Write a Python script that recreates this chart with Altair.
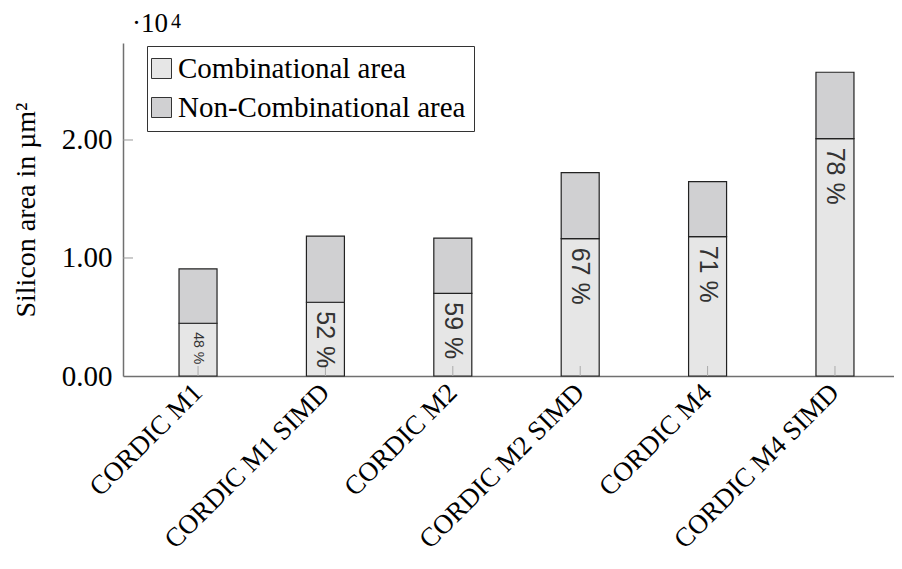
import altair as alt
import pandas as pd

categories = ["CORDIC M1", "CORDIC M1 SIMD", "CORDIC M2", "CORDIC M2 SIMD", "CORDIC M4", "CORDIC M4 SIMD"]
combinational = [4470, 6250, 7010, 11640, 11810, 20110]
non_combinational = [4600, 5610, 4680, 5590, 4660, 5630]
percent_labels = ["48 %", "52 %", "59 %", "67 %", "71 %", "78 %"]
percent_sizes = [14, 25, 25, 25, 25, 25]
series_names = ["Combinational area", "Non-Combinational area"]
y_ticks = [10000, 20000]
exponent_base = ["·10"]
exponent_power = ["4"]

rows = []
for i, c in enumerate(categories):
    rows.append({"cat": c, "series": series_names[0], "value": combinational[i], "ord": 0})
    rows.append({"cat": c, "series": series_names[1], "value": non_combinational[i], "ord": 1})
bars_df = pd.DataFrame(rows)

labels_df = pd.DataFrame({
    "cat": categories,
    "y": combinational,
    "label": percent_labels,
    "size": percent_sizes,
})
ticks_df = pd.DataFrame({"v": y_ticks})
xt_df = pd.DataFrame({"cat": categories})
exp_df = pd.DataFrame({"t": exponent_base})
pow_df = pd.DataFrame({"t": exponent_power})

SERIF = "Liberation Serif"
FS = 29
H = 333

x_scale = alt.Scale(domain=categories, range=[0, 787], paddingInner=0, paddingOuter=0.089)
y_scale = alt.Scale(domain=[0, 28220], nice=False, zero=True)

x_axis = alt.Axis(
    title=None, labelAngle=-45, labelAlign="right", labelBaseline="middle",
    labelPadding=12, labelFont=SERIF, labelFontSize=27, labelColor="black",
    ticks=False, domainColor="#707070", domainWidth=1.5, labelLimit=400, grid=False)
y_axis = alt.Axis(
    values=[0, 10000, 20000], labelExpr="format(datum.value / 10000, '.2f')",
    ticks=False, labelPadding=11, labelFont=SERIF, labelFontSize=FS, labelColor="black",
    domainColor="#707070", domainWidth=1.5, grid=False,
    title="Silicon area in µm²", titleFont=SERIF, titleFontSize=28,
    titleFontWeight="normal", titleColor="black", titlePadding=21)

bars = alt.Chart(bars_df).mark_bar(size=38, stroke="#222222", strokeWidth=1.2).encode(
    x=alt.X("cat:N", scale=x_scale, sort=categories, axis=x_axis),
    y=alt.Y("sum(value):Q", scale=y_scale, stack="zero", axis=y_axis),
    color=alt.Color("series:N", scale=alt.Scale(domain=series_names, range=["#e6e6e6", "#d0d0d2"]),
                    legend=alt.Legend(
                        title=None, orient="none", legendX=24, legendY=3,
                        fillColor="white", strokeColor="#333333", padding=8,
                        symbolType="square", symbolSize=400, symbolStrokeColor="#333333",
                        symbolStrokeWidth=1, symbolOpacity=1, symbolOffset=-8,
                        labelFont=SERIF, labelFontSize=FS, labelColor="black",
                        labelOffset=2, rowPadding=9, labelLimit=500)),
    order=alt.Order("ord:Q"),
)

xticks = alt.Chart(xt_df).mark_rule(color="#aaaaaa", strokeWidth=1).encode(
    x=alt.X("cat:N", scale=x_scale, sort=categories, axis=x_axis),
    y=alt.value(H),
    y2=alt.value(H - 10),
)

yticks = alt.Chart(ticks_df).mark_rule(color="#999999", strokeWidth=1).encode(
    y=alt.Y("v:Q", scale=y_scale, axis=y_axis),
    x=alt.value(0),
    x2=alt.value(10),
)

pct = alt.Chart(labels_df).mark_text(angle=90, align="left", baseline="middle",
                                      dx=9, font="Liberation Sans", color="#333333").encode(
    x=alt.X("cat:N", scale=x_scale, sort=categories, axis=x_axis),
    y=alt.Y("y:Q", scale=y_scale, axis=y_axis),
    text="label:N",
    size=alt.Size("size:Q", scale=None, legend=None),
)

exp_base = alt.Chart(exp_df).mark_text(align="left", baseline="alphabetic", font=SERIF,
                                        fontSize=27, color="black").encode(
    x=alt.value(9), y=alt.value(-11), text="t:N")
exp_pow = alt.Chart(pow_df).mark_text(align="left", baseline="alphabetic", font=SERIF,
                                       fontSize=20, color="black").encode(
    x=alt.value(48), y=alt.value(-15), text="t:N")

chart = alt.layer(bars, xticks, yticks, pct, exp_base, exp_pow).properties(
    width=771, height=H,
    autosize=alt.AutoSizeParams(type="none"),
    padding={"left": 115, "top": 35, "right": 0, "bottom": 185},
).configure_view(stroke=None)

chart.save("out.html", embed_options={"renderer": "svg", "actions": False})
